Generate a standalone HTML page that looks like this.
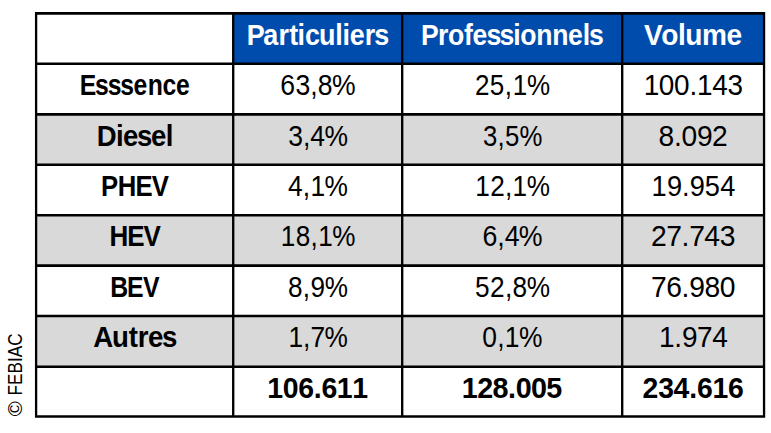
<!DOCTYPE html>
<html lang="fr">
<head>
<meta charset="utf-8">
<title>FEBIAC - Immatriculations par motorisation</title>
<style>
html,body{margin:0;padding:0;background:#fff;}
body{width:771px;height:433px;overflow:hidden;position:relative;}
svg{position:absolute;left:0;top:0;display:block;}
text{font-family:"Liberation Sans",sans-serif;fill:#000;font-kerning:none;}
.b{font-weight:bold;}
.h{fill:#fff;font-weight:bold;}
</style>
</head>
<body>
<svg width="771" height="433" viewBox="0 0 771 433">
<rect x="0" y="0" width="771" height="433" fill="#fff"/>
<rect x="233.22" y="13.40" width="530.83" height="50.35" fill="#004CAD"/>
<rect x="36.10" y="114.40" width="727.95" height="50.30" fill="#D9D9D9"/>
<rect x="36.10" y="215.20" width="727.95" height="50.40" fill="#D9D9D9"/>
<rect x="36.10" y="316.00" width="727.95" height="50.70" fill="#D9D9D9"/>
<path fill="#000" fill-rule="nonzero" d="M34.95 12.03h730.25v2.75h-730.25zM34.95 62.45h730.25v2.60h-730.25zM34.95 113.10h730.25v2.60h-730.25zM34.95 163.40h730.25v2.60h-730.25zM34.95 213.90h730.25v2.60h-730.25zM34.95 264.30h730.25v2.60h-730.25zM34.95 314.70h730.25v2.60h-730.25zM34.95 365.40h730.25v2.60h-730.25zM34.95 415.15h730.25v2.60h-730.25zM34.95 12.03h2.30v405.73h-2.30zM232.04 12.03h2.35v405.73h-2.35zM401.02 12.03h2.35v405.73h-2.35zM621.03 12.03h2.35v405.73h-2.35zM762.90 12.03h2.30v405.73h-2.30z"/>
<text class="h" font-size="29.00" transform="translate(0 45) scale(0.9295 1)" x="265.35 283.24 299.56 311.10 320.07 328.11 343.23 360.70 368.47 376.33 392.36 402.60">Particuliers</text>
<text class="h" font-size="29.00" transform="translate(0 45) scale(0.9182 1)" x="458.44 476.99 487.84 505.28 514.62 529.80 544.05 559.02 566.71 584.07 601.38 618.74 634.65 641.62">Professionnels</text>
<text class="h" font-size="29.00" transform="translate(0 45) scale(0.9686 1)" x="664.82 682.79 699.96 707.40 724.71 750.07">Volume</text>
<text class="b" font-size="29.00" transform="translate(0 95) scale(0.8531 1)" x="93.44 111.43 126.20 140.96 156.58 173.17 190.54 206.31">Esssence</text>
<text font-size="29.00" transform="translate(0 95) scale(0.9163 1)" x="305.99 322.43 338.60 346.77 362.43">63,8%</text>
<text font-size="29.00" transform="translate(0 95) scale(0.8978 1)" x="529.02 545.63 562.34 571.00 586.92">25,1%</text>
<text font-size="29.00" transform="translate(0 95) scale(0.9642 1)" x="667.63 683.32 699.14 714.98 722.89 738.63 754.51">100.143</text>
<text class="b" font-size="29.00" transform="translate(0 146) scale(0.9490 1)" x="102.03 122.11 129.58 144.40 159.10 174.70">Diesel</text>
<text font-size="29.00" transform="translate(0 146) scale(0.9133 1)" x="315.65 331.69 339.79 355.29">3,4%</text>
<text font-size="29.00" transform="translate(0 146) scale(0.8884 1)" x="543.58 560.09 568.50 584.73">3,5%</text>
<text font-size="29.00" transform="translate(0 146) scale(0.9726 1)" x="677.14 692.90 700.60 716.56 732.07">8.092</text>
<text class="b" font-size="29.00" transform="translate(0 196) scale(0.8864 1)" x="114.01 132.76 152.75 171.21">PHEV</text>
<text font-size="29.00" transform="translate(0 196) scale(0.9082 1)" x="317.15 333.43 341.81 357.41">4,1%</text>
<text font-size="29.00" transform="translate(0 196) scale(0.9025 1)" x="526.66 543.09 559.51 567.99 583.73">12,1%</text>
<text font-size="29.00" transform="translate(0 196) scale(0.9388 1)" x="693.99 710.38 726.37 734.81 750.75 767.17">19.954</text>
<text class="b" font-size="29.00" transform="translate(0 246) scale(0.8968 1)" x="121.97 141.79 160.10">HEV</text>
<text font-size="29.00" transform="translate(0 246) scale(0.9004 1)" x="311.90 328.35 344.83 353.35 369.13">18,1%</text>
<text font-size="29.00" transform="translate(0 246) scale(0.9222 1)" x="523.19 539.22 547.22 562.59">6,4%</text>
<text font-size="29.00" transform="translate(0 246) scale(0.9778 1)" x="665.73 681.46 697.03 704.78 720.35 736.04">27.743</text>
<text class="b" font-size="29.00" transform="translate(0 297) scale(0.8561 1)" x="128.79 148.40 167.15">BEV</text>
<text font-size="29.00" transform="translate(0 297) scale(0.9026 1)" x="319.15 335.56 344.11 359.71">8,9%</text>
<text font-size="29.00" transform="translate(0 297) scale(0.9061 1)" x="524.17 540.81 557.21 565.53 581.37">52,8%</text>
<text font-size="29.00" transform="translate(0 297) scale(0.9746 1)" x="668.06 683.68 699.40 707.33 722.80 738.51">76.980</text>
<text class="b" font-size="29.00" transform="translate(0 347) scale(0.9529 1)" x="97.76 117.61 135.06 144.61 155.28 170.14">Autres</text>
<text font-size="29.00" transform="translate(0 347) scale(0.9062 1)" x="318.32 334.42 342.68 358.23">1,7%</text>
<text font-size="29.00" transform="translate(0 347) scale(0.9107 1)" x="529.66 545.98 554.33 569.91">0,1%</text>
<text font-size="29.00" transform="translate(0 347) scale(0.9654 1)" x="682.64 698.35 706.35 722.04 737.78">1.974</text>
<text class="b" font-size="29.00" transform="translate(0 398) scale(0.9814 1)" x="272.35 288.10 303.88 319.68 327.55 343.16 358.88">106.611</text>
<text class="b" font-size="29.00" transform="translate(0 398) scale(0.9897 1)" x="466.55 482.15 497.66 513.39 521.04 536.59 551.94">128.005</text>
<text class="b" font-size="29.00" transform="translate(0 398) scale(0.9798 1)" x="655.88 671.84 687.36 703.47 711.44 727.15 743.08">234.616</text>
<g transform="translate(0 416.30) rotate(-90)"><text font-size="21.00" transform="translate(0 22.45) scale(0.9750 1)">&#169;</text><text font-size="19.50" transform="translate(20.90 21.90) scale(0.8800 1)">FEBIAC</text></g>
</svg>
</body>
</html>
